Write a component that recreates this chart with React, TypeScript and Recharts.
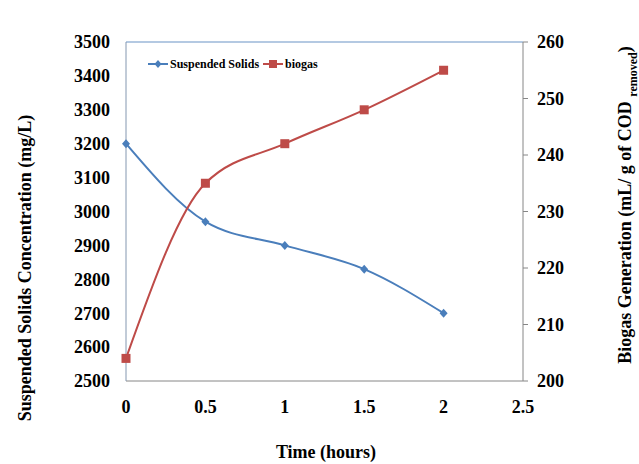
import React from 'react';
import { LineChart, Line, XAxis, YAxis, ReferenceLine, Legend } from 'recharts';

const hours = [0, 0.5, 1, 1.5, 2];
const suspendedSolids = [3200, 2970, 2900, 2830, 2700];
const biogas = [204, 235, 242, 248, 255];
const xTicks = [0, 0.5, 1, 1.5, 2, 2.5];
const leftTicks = [2500, 2600, 2700, 2800, 2900, 3000, 3100, 3200, 3300, 3400, 3500];
const rightTicks = [200, 210, 220, 230, 240, 250, 260];

const data = hours.map((h, i) => ({ hours: h, ss: suspendedSolids[i], biogas: biogas[i] }));

const FONT = '"Liberation Serif", "Times New Roman", serif';
const BLUE = '#4a7ebb';
const RED = '#be4b48';

const tickStyle = { fontFamily: FONT, fontWeight: 'bold', fontSize: 18, fill: '#000' };
const titleStyle = { fontFamily: FONT, fontWeight: 'bold', fontSize: 18 };

const Diamond = (props: any) => {
  const { cx, cy } = props;
  if (cx == null || cy == null) return null;
  return <path d={`M${cx},${cy - 4.5}L${cx + 4},${cy}L${cx},${cy + 4.5}L${cx - 4},${cy}Z`} fill={BLUE} />;
};

const Square = (props: any) => {
  const { cx, cy } = props;
  if (cx == null || cy == null) return null;
  return <rect x={cx - 4.5} y={cy - 4.5} width={9} height={9} fill={RED} />;
};

const LegendBox = () => (
  <svg width={200} height={16} style={{ overflow: 'visible' }}>
    <line x1={2} x2={22} y1={8} y2={8} stroke={BLUE} strokeWidth={2} />
    <path d="M12,4L15.5,8L12,12L8.5,8Z" fill={BLUE} />
    <text x={24} y={12} style={{ fontFamily: FONT, fontWeight: 'bold', fontSize: 12 }}>Suspended Solids</text>
    <line x1={117} x2={137} y1={8} y2={8} stroke={RED} strokeWidth={2} />
    <rect x={123} y={4} width={8} height={8} fill={RED} />
    <text x={139} y={12} style={{ fontFamily: FONT, fontWeight: 'bold', fontSize: 12 }}>biogas</text>
  </svg>
);

export default function App() {
  return (
    <div style={{ position: 'absolute', left: 0, top: 0 }}>
      <LineChart width={639} height={464} data={data} margin={{ top: 22, right: 0, bottom: 0, left: 0 }}>
        <XAxis
          dataKey="hours"
          type="number"
          domain={[0, 2.5]}
          ticks={xTicks}
          tickLine={false}
          tickMargin={13}
          height={83}
          stroke="#868686"
          tick={tickStyle}
          label={{
            content: () => (
              <text x={326} y={458} textAnchor="middle" style={titleStyle}>
                Time (hours)
              </text>
            ),
          }}
        />
        <YAxis
          yAxisId="left"
          domain={[2500, 3500]}
          ticks={leftTicks}
          tickLine={false}
          tickMargin={10}
          width={126}
          stroke="#8497b0"
          tick={tickStyle}
          label={{
            content: () => (
              <text transform="translate(31,268) rotate(-90)" textAnchor="middle" style={titleStyle}>
                Suspended Solids Concentration  (mg/L)
              </text>
            ),
          }}
        />
        <YAxis
          yAxisId="right"
          orientation="right"
          domain={[200, 260]}
          ticks={rightTicks}
          tickSize={5}
          tickMargin={9}
          width={116}
          stroke="#868686"
          tick={tickStyle}
          label={{
            content: () => (
              <text transform="translate(631,205) rotate(-90)" textAnchor="middle" style={titleStyle}>
                Biogas Generation  (mL/ g of COD <tspan fontSize={12} dy={6}>removed</tspan>
                <tspan dy={-6}>)</tspan>
              </text>
            ),
          }}
        />
        <ReferenceLine yAxisId="left" y={3500} stroke="#9bb7d9" strokeWidth={1.5} />
        <Legend
          verticalAlign="top"
          align="left"
          content={() => <LegendBox />}
          wrapperStyle={{ top: 56, left: 146, width: 200 }}
        />
        <Line
          yAxisId="left"
          type="monotone"
          dataKey="ss"
          name="Suspended Solids"
          stroke={BLUE}
          strokeWidth={2}
          dot={<Diamond />}
          activeDot={false}
          isAnimationActive={false}
        />
        <Line
          yAxisId="right"
          type="monotone"
          dataKey="biogas"
          name="biogas"
          stroke={RED}
          strokeWidth={2}
          dot={<Square />}
          activeDot={false}
          isAnimationActive={false}
        />
      </LineChart>
    </div>
  );
}
